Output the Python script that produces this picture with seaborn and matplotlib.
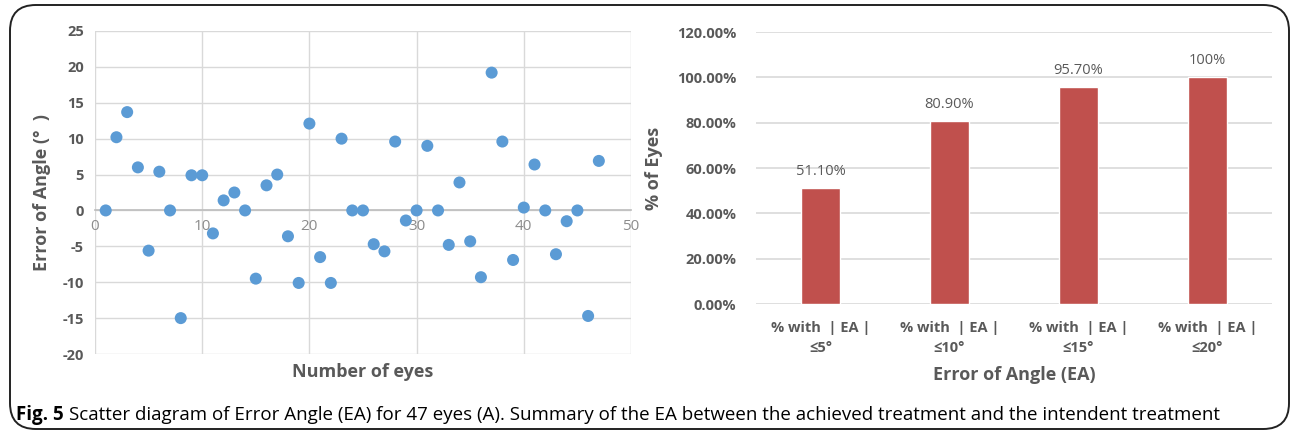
import matplotlib
matplotlib.use("Agg")
import matplotlib.pyplot as plt
import seaborn as sns
import pandas as pd
from matplotlib.patches import FancyBboxPatch

# Scatter (A): error angle per eye
eyes = list(range(1, 48))
error_angle = [0, 10.2, 13.7, 6.0, -5.6, 5.4, 0, -15.0, 4.9, 4.9,
               -3.2, 1.4, 2.5, 0, -9.5, 3.5, 5.0, -3.6, -10.1, 12.1,
               -6.5, -10.1, 10.0, 0, 0, -4.7, -5.7, 9.6, -1.4, 0,
               9.0, 0, -4.8, 3.9, -4.3, -9.3, 19.2, 9.6, -6.9, 0.4,
               6.4, 0, -6.1, -1.5, 0, -14.7, 6.9]

# Bar (B): share of eyes within EA threshold
categories = ["% with  | EA |\n\u22645\u00b0", "% with  | EA |\n\u226410\u00b0",
              "% with  | EA |\n\u226415\u00b0", "% with  | EA |\n\u226420\u00b0"]
pct_eyes = [51.1, 80.9, 95.7, 100.0]
bar_labels = ["51.10%", "80.90%", "95.70%", "100%"]

sns.set_theme(style="white")
plt.rcParams['font.family'] = ['Open Sans', 'DejaVu Sans']
plt.rcParams['axes.unicode_minus'] = False

W, H = 1292, 434
fig = plt.figure(figsize=(W / 100, H / 100), dpi=100)

grey = "#595959"
grid_c = "#d9d9d9"

# border box
box = FancyBboxPatch((10 / W, 5 / H), 1279 / W, 424 / H,
                     boxstyle="round,pad=0,rounding_size=0.02",
                     transform=fig.transFigure, fill=False, lw=1.4,
                     edgecolor="#222222", mutation_aspect=W / H)
fig.patches.append(box)

# ---- scatter ----
ax1 = fig.add_axes([95 / W, 1 - 354 / H, 536 / W, 323 / H])
sns.scatterplot(x=eyes, y=error_angle, color="#5B9BD5", s=75,
                edgecolor="none", ax=ax1, zorder=3, clip_on=False)
ax1.set_xlim(0, 50)
ax1.set_ylim(-20, 25)
ax1.set_xticks(range(0, 51, 10))
ax1.set_yticks(range(-20, 26, 5))
ax1.grid(True, color=grid_c, lw=1)
for s in ["top", "right", "left"]:
    ax1.spines[s].set_visible(False)
ax1.spines["bottom"].set_position(("data", 0))
ax1.spines["bottom"].set_color("#bfbfbf")
ax1.tick_params(axis="x", length=0, labelsize=11, labelcolor="#8c8c8c", pad=6)
ax1.tick_params(axis="y", length=0, labelsize=10.5, labelcolor=grey, pad=8)
for t in ax1.get_yticklabels():
    t.set_fontweight("bold")
ax1.set_ylabel("Error of Angle (\u00b0  )", fontsize=13, fontweight="bold",
               color=grey, labelpad=8)
fig.text(363 / W, 1 - 372 / H, "Number of eyes", ha="center", va="center",
         fontsize=13, fontweight="bold", color=grey)

# ---- bars ----
ax2 = fig.add_axes([756 / W, 1 - 304 / H, 516 / W, 272 / H])
df = pd.DataFrame({"cat": categories, "pct": pct_eyes})
sns.barplot(data=df, x="cat", y="pct", color="#C0504D", saturation=1,
            width=0.31, ax=ax2, zorder=3)
ax2.set_xlim(-0.5, 3.5)
ax2.set_ylim(0, 120)
ax2.set_yticks(range(0, 121, 20))
ax2.set_yticklabels([f"{v:.2f}%" for v in range(0, 121, 20)])
ax2.yaxis.grid(True, color=grid_c, lw=1.2)
sns.despine(ax=ax2, left=True, bottom=True)
ax2.tick_params(axis="y", length=0, labelsize=10.5, labelcolor=grey, pad=14)
ax2.tick_params(axis="x", length=0, labelsize=10.5, labelcolor=grey, pad=12)
for t in ax2.get_yticklabels() + ax2.get_xticklabels():
    t.set_fontweight("bold")
for t in ax2.get_xticklabels():
    t.set_linespacing(1.6)
for i, (v, lab) in enumerate(zip(pct_eyes, bar_labels)):
    ax2.text(i, v + 4, lab, ha="center", va="bottom", fontsize=10.5, color=grey)
ax2.set_xlabel("Error of Angle (EA)", fontsize=13, fontweight="bold",
               color=grey, labelpad=8)
ax2.set_ylabel("% of Eyes", fontsize=13, fontweight="bold", color=grey,
               labelpad=10)

# caption
fig.canvas.draw()
r = fig.canvas.get_renderer()
t1 = fig.text(16 / W, 1 - 415 / H, "Fig. 5", fontsize=13.5, fontweight="bold",
              va="center", ha="left", color="black")
bb = t1.get_window_extent(renderer=r)
fig.text((bb.x1 + 5) / W, 1 - 415 / H,
         "Scatter diagram of Error Angle (EA) for 47 eyes (A). Summary of the EA "
         "between the achieved treatment and the intendent treatment",
         fontsize=13.5, va="center", ha="left", color="black")

fig.savefig("out.png", dpi=100)
